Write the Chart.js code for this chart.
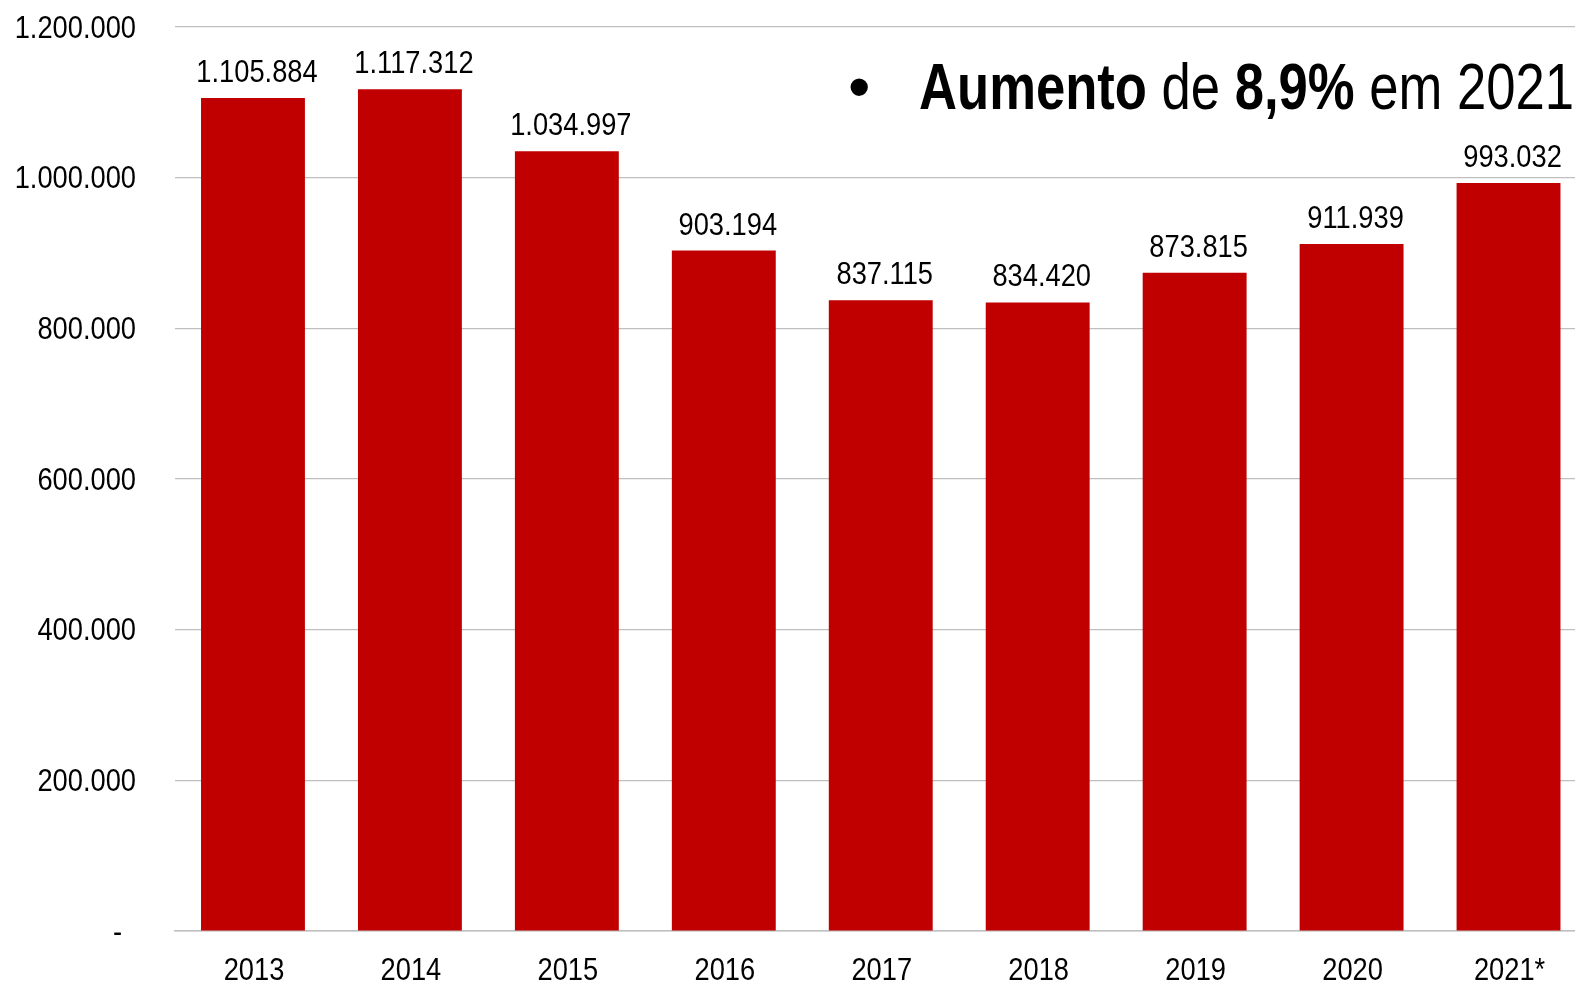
<!DOCTYPE html>
<html>
<head>
<meta charset="utf-8">
<script src="https://cdn.jsdelivr.net/npm/chart.js@4/dist/chart.umd.min.js"></script>
<style>
  html, body { margin: 0; padding: 0; background: #fff; overflow: hidden; }
  #wrap { position: relative; width: 1587px; height: 987px; }
  .title {
    position: absolute; white-space: nowrap;
    font-family: "Liberation Sans", Arial, sans-serif;
    font-size: 64px; color: #000; line-height: 64px;
  }
  #bullet { left: 848px; top: 55px; }
  #headline { left: 919px; top: 55px; transform: scaleX(0.822); transform-origin: 0 0; }
</style>
</head>
<body>
<div id="wrap">
  <canvas id="chart" width="1587" height="987"></canvas>
  <div class="title" id="bullet">•</div>
  <div class="title" id="headline"><b>Aumento</b> de <b>8,9%</b> em 2021</div>
</div>
<script>
// values
const years = ["2013", "2014", "2015", "2016", "2017", "2018", "2019", "2020", "2021*"];
const totals = [1105884, 1117312, 1034997, 903194, 837115, 834420, 873815, 911939, 993032];
const yTicks = [0, 200000, 400000, 600000, 800000, 1000000, 1200000];

const FONT = "31px 'Liberation Sans', Arial, sans-serif";
const SQUEEZE = 0.88; // the reference uses a narrow face

function fmt(v) {
  if (v === 0) return "-";
  return String(Math.round(v)).replace(/\B(?=(\d{3})+(?!\d))/g, ".");
}

function narrowText(ctx, text, x, y, align) {
  ctx.save();
  ctx.translate(x, y);
  ctx.scale(SQUEEZE, 1);
  ctx.textAlign = align;
  ctx.fillText(text, 0, 0);
  ctx.restore();
}

// tick labels and bar values, drawn narrow
const narrowLabels = {
  id: "narrowLabels",
  afterDraw(chart) {
    const ctx = chart.ctx;
    const xs = chart.scales.x;
    const ys = chart.scales.y;
    ctx.save();
    ctx.font = FONT;
    ctx.fillStyle = "#000";

    ctx.textBaseline = "middle";
    yTicks.forEach((v) => {
      // the "-" for zero sits a bit further left, like an accounting format
      const right = v === 0 ? 122 : 136;
      narrowText(ctx, fmt(v), right, ys.getPixelForValue(v) + 2, "right");
    });

    ctx.textBaseline = "alphabetic";
    years.forEach((y, i) => {
      narrowText(ctx, y, xs.getPixelForValue(i) + 1, 980, "center");
    });

    const meta = chart.getDatasetMeta(0);
    meta.data.forEach((bar, i) => {
      narrowText(ctx, fmt(totals[i]), bar.x + 4, bar.y - 16, "center");
    });
    ctx.restore();
  },
};

new Chart(document.getElementById("chart"), {
  type: "bar",
  data: {
    labels: years,
    datasets: [{
      data: totals,
      backgroundColor: "#C00000",
      barPercentage: 0.662,
      categoryPercentage: 1,
    }],
  },
  options: {
    responsive: false,
    animation: false,
    layout: { padding: { top: 27, right: 0, left: 0, bottom: 0 } },
    plugins: { legend: { display: false }, tooltip: { enabled: false } },
    scales: {
      x: {
        grid: { display: false, drawTicks: false },
        border: { color: "#BFBFBF", width: 1.5 },
        ticks: { display: false },
        afterFit(scale) { scale.height = 56; },
      },
      y: {
        min: 0,
        max: 1200000,
        afterBuildTicks(scale) { scale.ticks = yTicks.map((v) => ({ value: v })); },
        grid: { color: "#BFBFBF", lineWidth: 1.2, drawTicks: false },
        border: { display: false },
        ticks: { display: false },
        afterFit(scale) { scale.width = 174.5; },
      },
    },
  },
  plugins: [narrowLabels],
});
</script>
</body>
</html>
